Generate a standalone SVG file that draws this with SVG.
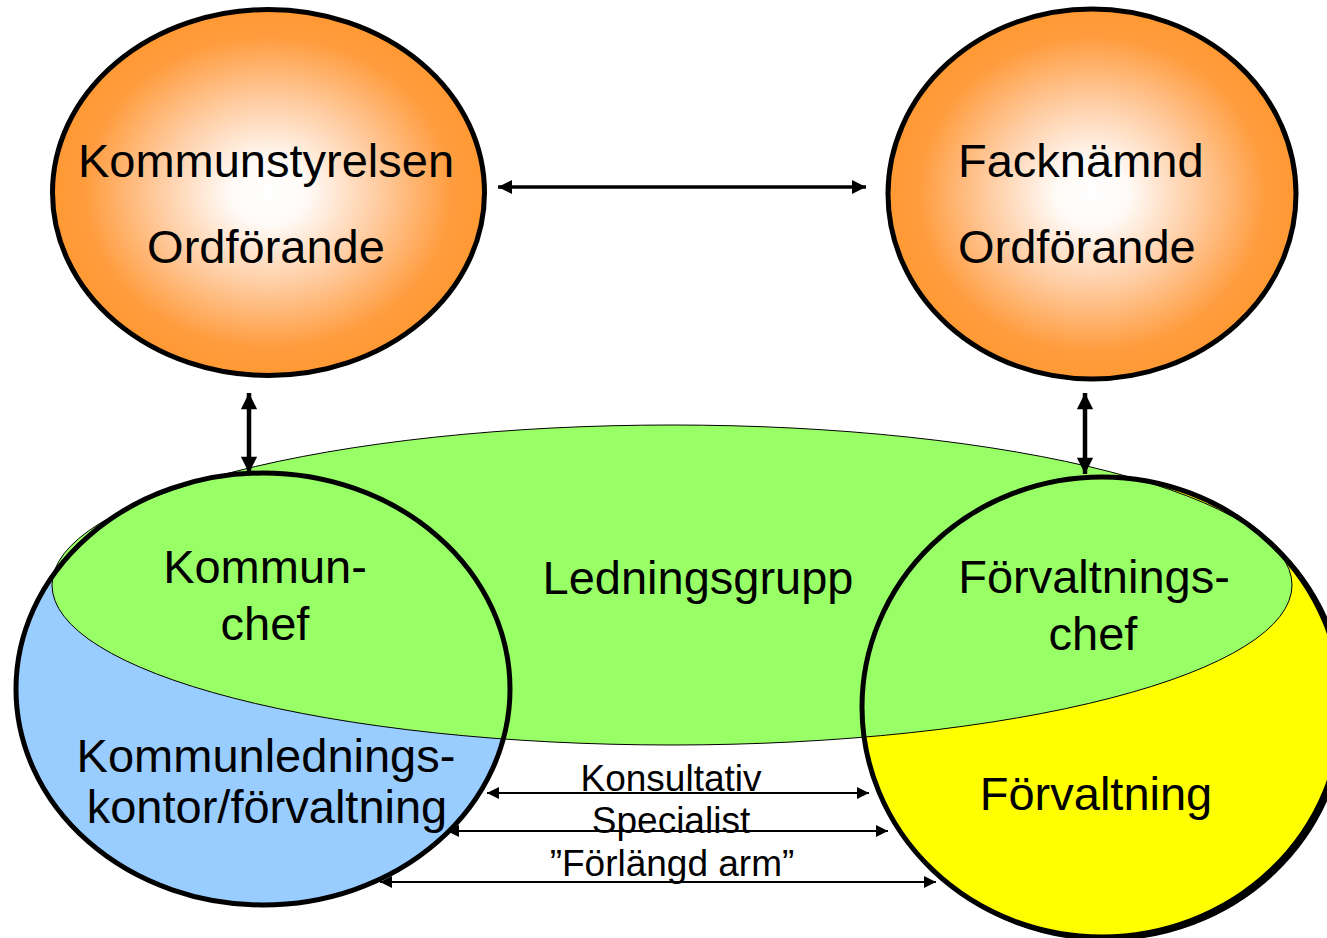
<svg xmlns="http://www.w3.org/2000/svg" width="1327" height="938" viewBox="0 0 1327 938">
<style>
text{font-family:"Liberation Sans",Arial,sans-serif;fill:#000}
.big{font-size:47px}
.small{font-size:37px}
.ring{fill:none;stroke:#000;stroke-width:5}
.conn{stroke:#000;fill:none}
</style>
<defs>
<radialGradient id="orange" cx="50%" cy="50%" r="50%">
<stop offset="0" stop-color="#FFFFFF"/>
<stop offset="0.18" stop-color="#FFFAF6"/>
<stop offset="0.5" stop-color="#FFCDA3"/>
<stop offset="0.85" stop-color="#FF9C3E"/>
<stop offset="1" stop-color="#FF9933"/>
</radialGradient>
<marker id="ah" viewBox="0 0 10 10" refX="10" refY="5" markerWidth="4.2" markerHeight="4" orient="auto-start-reverse" markerUnits="strokeWidth">
<path d="M0,0 L10,5 L0,10 z" fill="#000"/>
</marker>
<marker id="ahv" viewBox="0 0 10 10" refX="10" refY="5" markerWidth="3.8" markerHeight="3.6" orient="auto-start-reverse" markerUnits="strokeWidth">
<path d="M0,0 L10,5 L0,10 z" fill="#000"/>
</marker>
<marker id="ahs" viewBox="0 0 10 10" refX="10" refY="5" markerWidth="6" markerHeight="6" orient="auto-start-reverse" markerUnits="strokeWidth">
<path d="M0,0 L10,5 L0,10 z" fill="#000"/>
</marker>
</defs>
<rect width="1327" height="938" fill="#fff"/>

<g id="kommunstyrelsen">
<ellipse cx="268.5" cy="192.5" rx="216" ry="183" fill="url(#orange)" stroke="#000" stroke-width="5"/>
<text class="big" x="266" y="177" text-anchor="middle">Kommunstyrelsen</text>
<text class="big" x="266" y="263" text-anchor="middle">Ordförande</text>
</g>

<g id="facknamnd">
<ellipse cx="1092" cy="194" rx="204" ry="185" fill="url(#orange)" stroke="#000" stroke-width="5"/>
<text class="big" x="958" y="177">Facknämnd</text>
<text class="big" x="958" y="263">Ordförande</text>
</g>

<g id="fills">
<ellipse cx="263" cy="689" rx="247" ry="216" fill="#99CCFF"/>
<ellipse cx="1105" cy="709" rx="240" ry="230" fill="#FFFF00" stroke="#000" stroke-width="4"/>
<ellipse cx="1102" cy="707" rx="240" ry="230" fill="#FFFF00"/>
</g>

<g id="ledningsgrupp">
<ellipse cx="672" cy="585" rx="620" ry="160" fill="#99FF66" stroke="#000" stroke-width="1"/>
<text class="big" x="698" y="594" text-anchor="middle">Ledningsgrupp</text>
</g>

<g id="kommunledning">
<ellipse class="ring" cx="263" cy="689" rx="247" ry="216"/>
<text class="big" x="265" y="583" text-anchor="middle">Kommun-</text>
<text class="big" x="265" y="640" text-anchor="middle">chef</text>
<text class="big" x="266" y="772" text-anchor="middle">Kommunlednings-</text>
<text class="big" x="267" y="823" text-anchor="middle">kontor/förvaltning</text>
</g>

<g id="forvaltning">
<ellipse class="ring" cx="1102" cy="707" rx="240" ry="230"/>
<text class="big" x="1094" y="593" text-anchor="middle">Förvaltnings-</text>
<text class="big" x="1093" y="650" text-anchor="middle">chef</text>
<text class="big" x="1096" y="810" text-anchor="middle">Förvaltning</text>
</g>

<g id="connectors">
<line class="conn" x1="498" y1="187" x2="866" y2="187" stroke-width="3.5" marker-start="url(#ah)" marker-end="url(#ah)"/>
<line class="conn" x1="249" y1="393" x2="249" y2="473" stroke-width="4.5" marker-start="url(#ahv)" marker-end="url(#ahv)"/>
<line class="conn" x1="1085" y1="393" x2="1085" y2="474" stroke-width="4.5" marker-start="url(#ahv)" marker-end="url(#ahv)"/>
<line class="conn" x1="487" y1="793" x2="869" y2="793" stroke-width="2" marker-start="url(#ahs)" marker-end="url(#ahs)"/>
<line class="conn" x1="447" y1="831" x2="888" y2="831" stroke-width="2" marker-start="url(#ahs)" marker-end="url(#ahs)"/>
<line class="conn" x1="380" y1="882" x2="936" y2="882" stroke-width="2" marker-start="url(#ahs)" marker-end="url(#ahs)"/>
<text class="small" x="671" y="791" text-anchor="middle">Konsultativ</text>
<text class="small" x="671" y="833" text-anchor="middle">Specialist</text>
<text class="small" x="672" y="876" text-anchor="middle">”Förlängd arm”</text>
</g>
</svg>
